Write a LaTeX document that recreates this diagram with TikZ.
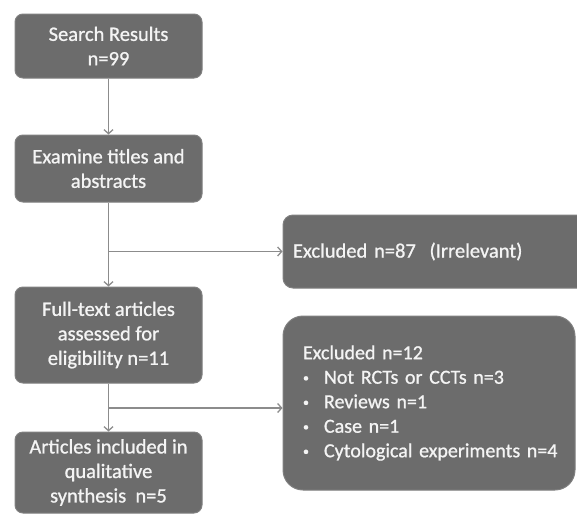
\documentclass[tikz,border=0pt]{standalone}
\usepackage{fontspec}
\setmainfont{Carlito}
\newfontfamily\semib{Carlito}[FakeBold=0.9]
\usetikzlibrary{arrows.meta}
\definecolor{boxfill}{RGB}{108,108,108}
\definecolor{boxline}{RGB}{128,128,128}
\definecolor{txt}{RGB}{244,244,244}
\definecolor{arrcol}{RGB}{140,140,140}
\newcommand{\smbul}{\makebox[21pt][l]{\raisebox{2pt}{\scalebox{0.6}{\textbullet}}}}
\begin{document}
\begin{tikzpicture}[x=1pt,y=-1pt,
  box/.style={rounded corners=8pt, fill=boxfill, draw=boxline, line width=1pt,
    text=txt, font=\semib\fontsize{20.5}{24.5}\selectfont, align=center, inner sep=0pt},
  arr/.style={draw=arrcol, line width=1.3pt, -{Straight Barb[length=4pt,width=9pt]}}]
\useasboundingbox (0,0) rectangle (577,514);
\clip (0,0) rectangle (577,514);
\node[box, minimum width=187pt, minimum height=64pt] (b1) at (108.5,46) {Search Results\\n=99};
\node[box, minimum width=187pt, minimum height=67pt] (b2) at (108.5,168.5) {Examine titles and\\abstracts};
\node[box, minimum width=187pt, minimum height=96pt] (b3) at (108.5,335) {Full-text articles\\assessed for\\eligibility n=11};
\node[box, minimum width=187pt, minimum height=81pt] (b4) at (108.5,472.5) {Articles included\ in\\qualitative\\synthesis\ \ n=5};
\node[box, rounded corners=10pt, minimum width=320pt, minimum height=73pt, text width=300pt, align=left] (e1) at (443,251.5) {Excluded n=87\ \ (Irrelevant)};
\node[box, rounded corners=20pt, minimum width=292pt, minimum height=174pt, text width=252pt, align=left, font=\semib\fontsize{20}{24.5}\selectfont] (e2) at (429,403) {\mbox{Excluded\ n=12}\\
\mbox{\smbul Not RCTs or CCTs\ n=3}\\
\mbox{\smbul Reviews n=1}\\
\mbox{\smbul Case n=1}\\
\mbox{\smbul Cytological experiments n=4}};
\coordinate (j2) at ([yshift=-5pt]e2.west);
\draw[arr] (b1) -- (b2);
\draw[arr] (b2) -- (b3);
\draw[arr] (b2.south |- e1.west) -- (e1.west);
\draw[arr] (b3) -- (b4);
\draw[arr] (b3.south |- j2) -- (j2);
\end{tikzpicture}
\end{document}
